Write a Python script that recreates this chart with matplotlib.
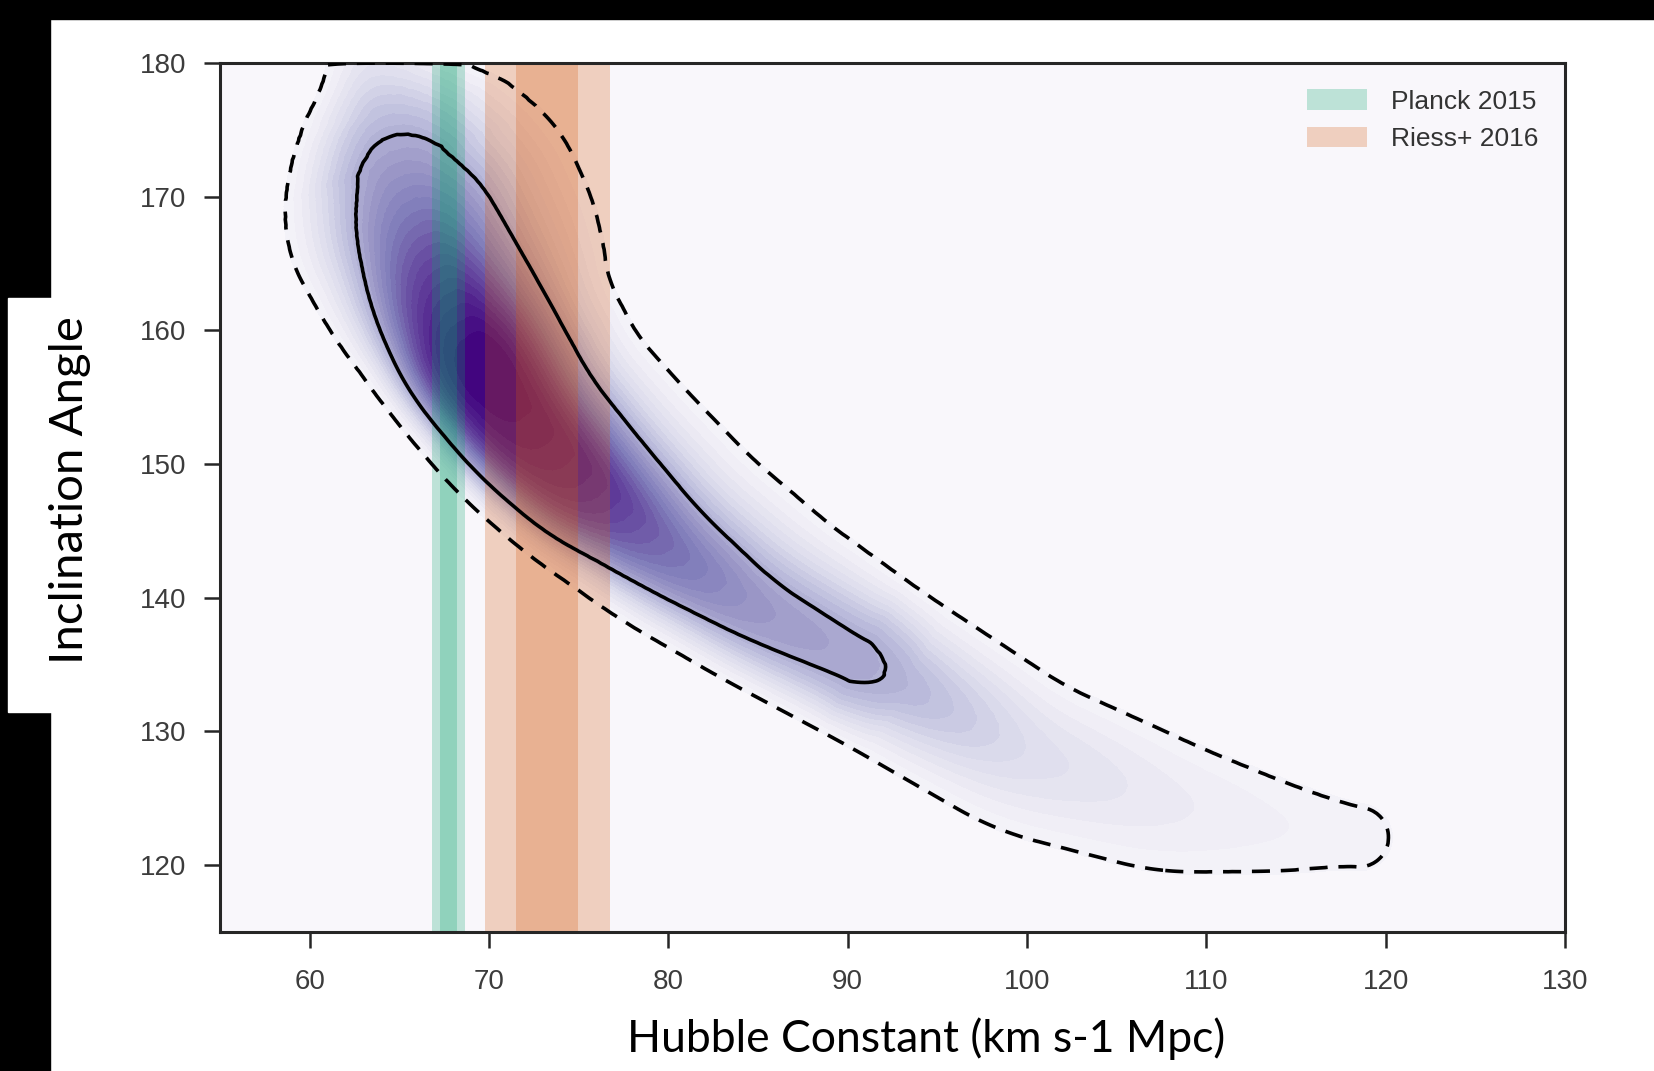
import numpy as np
import matplotlib
matplotlib.use('Agg')
import matplotlib.pyplot as plt
from matplotlib.patches import Rectangle, Patch

# ridge of the H0 / inclination posterior and its peak height along the ridge
ridge_h0 = [63.4, 63.7, 64.5, 65.7, 67.7, 69.8, 72.5, 76.0, 80.0, 85.0, 92.0, 100.0, 108.0, 114.0, 118.5]
ridge_inc = [180.5, 178.5, 174.5, 170.0, 164.0, 158.5, 153.5, 149.0, 144.0, 139.3, 134.3, 128.3, 124.6, 122.9, 122.1]
ridge_amp = [0.14, 0.26, 0.425, 0.58, 0.82, 1.00, 0.95, 0.85, 0.66, 0.50, 0.427, 0.22, 0.14, 0.10, 0.085]
# distance (px) from the ridge to the 95% / 68% contours, lower-left and upper-right side
w95_in = [36, 62, 108, 138, 130, 115, 108, 104, 90, 80, 80, 82, 70, 46, 28]
w95_out = [40, 100, 142, 164, 164, 142, 132, 125, 120, 110, 90, 78, 64, 44, 28]
w68_in = [0, 0, 25, 64, 84, 88, 84, 76, 50, 34, 18, 0, 0, 0, 0]
w68_out = [0, 0, 22, 68, 76, 80, 70, 58, 46, 30, 18, 0, 0, 0, 0]
level68, level95 = 0.42, 0.07

# external H0 measurements (mean, 1 sigma)
planck_h0, planck_sig = 67.74, 0.46
riess_h0, riess_sig = 73.24, 1.74

xticks = [60, 70, 80, 90, 100, 110, 120, 130]
yticks = [120, 130, 140, 150, 160, 170, 180]

W, H = 1654, 1071
fig = plt.figure(figsize=(W / 100, H / 100), dpi=100)
fig.patch.set_facecolor('white')
ax = fig.add_axes([220 / W, 1 - 932 / H, 1345 / W, 869 / H])

# pixel scale of the axes, so distances are isotropic on screen
sx, sy = 1345 / 75.0, 869 / 65.0

# resample the ridge finely and smooth it; the centre line keeps its end points
rx = np.array(ridge_h0) * sx
ry = np.array(ridge_inc) * sy
s = np.concatenate([[0], np.cumsum(np.hypot(np.diff(rx), np.diff(ry)))])
sd = np.linspace(0, s[-1], 800)


def resample(v, k=41, keep_ends=False):
    y = np.interp(sd, s, v)
    h = k // 2
    if keep_ends:
        pad = np.concatenate([2 * y[0] - y[h:0:-1], y, 2 * y[-1] - y[-2:-h - 2:-1]])
    else:
        pad = np.pad(y, h, mode='edge')
    return np.convolve(pad, np.ones(k) / k, mode='valid')


def shape_exponent(a, w95, w68):
    # exponent of the cross profile that puts both contours at their distances
    q = np.full(a.shape, 2.0)
    ok = (w68 > 1) & (a > level68 * 1.005)
    r = np.log(a[ok] / level95) / np.log(a[ok] / level68)
    q[ok] = np.log(r) / np.log(w95[ok] / w68[ok])
    q = np.clip(q, 1.3, 4.0)
    pad = np.pad(q, 15, mode='edge')
    return np.convolve(pad, np.ones(31) / 31, mode='valid')


cx, cy = resample(rx, keep_ends=True), resample(ry, keep_ends=True)
ca = resample(ridge_amp)
wi, wo = resample(w95_in), resample(w95_out)
qi = shape_exponent(ca, wi, resample(w68_in))
qo = shape_exponent(ca, wo, resample(w68_out))
tx, ty = np.gradient(cx), np.gradient(cy)
tn = np.hypot(tx, ty)
tx, ty = tx / tn, ty / tn

gh = np.linspace(45, 140, 460)
gi = np.linspace(105, 190, 420)
HH, II = np.meshgrid(gh, gi)
PX, PY = HH * sx, II * sy

best = np.full(HH.shape, np.inf)
idx = np.zeros(HH.shape, dtype=int)
for k in range(len(sd)):
    d2 = (PX - cx[k]) ** 2 + (PY - cy[k]) ** 2
    m = d2 < best
    best[m] = d2[m]
    idx[m] = k

dist = np.sqrt(best)
out = tx[idx] * (PY - cy[idx]) - ty[idx] * (PX - cx[idx]) > 0
w = np.where(out, wo[idx], wi[idx])
q = np.where(out, qo[idx], qi[idx])
a = ca[idx]
F = a * np.exp(-np.log(a / level95) * (dist / w) ** q)
F[II > 179.9] = 0.0

cmap = plt.get_cmap('Purples')
ax.set_facecolor(cmap(0.0))
fill_levels = np.concatenate([[-1e-9], np.linspace(0.066, F.max(), 29)])
ax.contourf(HH, II, F, levels=fill_levels, cmap=cmap, zorder=0)

green, orange = '#0da46f', '#d5580f'
for mu, sig, c in [(planck_h0, planck_sig, green), (riess_h0, riess_sig, orange)]:
    ax.axvspan(mu - 2 * sig, mu + 2 * sig, color=c, alpha=0.25, lw=0, zorder=2)
    ax.axvspan(mu - sig, mu + sig, color=c, alpha=0.25, lw=0, zorder=2)

ax.contour(HH, II, F, levels=[level95, level68], colors='black', linewidths=2.6,
           linestyles=[(0, (5, 3)), 'solid'], zorder=3)

ax.set_xlim(55, 130)
ax.set_ylim(115, 180)
ax.set_xticks(xticks)
ax.set_yticks(yticks)
for sp in ax.spines.values():
    sp.set_color('#262626')
    sp.set_linewidth(2.2)
ax.tick_params(direction='out', length=11.5, width=1.8, color='#262626',
               labelsize=20, labelcolor='#3c3c3c', pad=13)
ax.tick_params(axis='x', pad=15)
for lab in ax.get_xticklabels() + ax.get_yticklabels():
    lab.set_fontfamily('Liberation Sans')

handles = [Patch(color=green, alpha=0.25, lw=0), Patch(color=orange, alpha=0.25, lw=0)]
leg = ax.legend(handles, ['Planck 2015', 'Riess+ 2016'], loc='upper right', frameon=False,
                prop={'family': 'Liberation Sans', 'size': 19}, handlelength=2.3,
                handleheight=0.8, handletextpad=0.9, labelspacing=0.5, borderaxespad=0.6)
for t in leg.get_texts():
    t.set_color('#333333')

# slide frame: black edges and the white box behind the vertical label
fig.patches.append(Rectangle((0, 1 - 19 / H), 1, 19 / H, transform=fig.transFigure,
                             color='black', zorder=1))
fig.patches.append(Rectangle((0, 0), 49.6 / W, 1, transform=fig.transFigure,
                             color='black', zorder=1))
fig.patches.append(Rectangle((8.4 / W, 1 - 712 / H), (125 - 8.4) / W, 414 / H,
                             transform=fig.transFigure, color='white', zorder=2))

fig.text(926 / W, 1 - 1039 / H, 'Hubble Constant (km s-1 Mpc)', family='Lato',
         fontsize=32, ha='center', va='center', zorder=3)
fig.text(70 / W, 1 - 490 / H, 'Inclination Angle', family='Lato', fontsize=34,
         rotation=90, ha='center', va='center', zorder=3)

fig.savefig('out.png', dpi=100, facecolor='white')
